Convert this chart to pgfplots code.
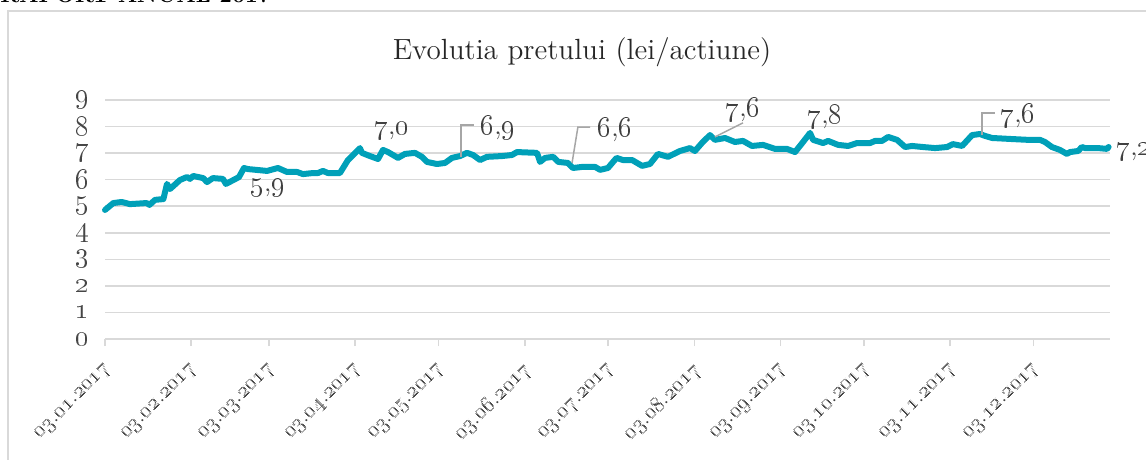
\documentclass[border=0pt]{standalone}
\usepackage{pgfplots}
\pgfplotsset{compat=1.18}
\definecolor{linec}{RGB}{0,160,184}
\definecolor{gridc}{RGB}{217,217,217}
\definecolor{txtc}{RGB}{70,70,70}
\definecolor{labc}{RGB}{64,64,64}
\definecolor{titc}{RGB}{38,38,38}
\definecolor{leadc}{RGB}{166,166,166}
\newcommand\os[1]{\oldstylenums{#1}}
\newcommand\dd[1]{\os{03}.\os{#1}.\os{2017}}
\newcommand\vl[2]{\os{#1},\os{#2}}
\pgfplotstableread{
day val
0 4.86
3 5.12
6 5.16
9 5.08
15 5.12
16 5.05
18 5.24
21 5.27
22.3 5.84
23.4 5.65
27 5.99
29.5 6.10
30.6 6.03
31.7 6.14
35.3 6.06
36.7 5.91
38.8 6.06
42.4 6.03
43.5 5.84
47.5 6.06
48.2 6.10
50 6.44
51.4 6.40
58.3 6.33
62.2 6.44
65.5 6.29
69.1 6.29
71.2 6.21
74.8 6.25
76.6 6.25
78.4 6.33
80.2 6.25
84.5 6.25
87.4 6.74
91.7 7.19
92.4 7.01
95.3 6.89
98.2 6.78
100 7.12
101.8 7.04
105.4 6.82
107.9 6.97
111.5 7.01
114 6.86
115.8 6.67
119.4 6.59
122.3 6.63
124.8 6.82
127.7 6.89
130.2 7.01
132.4 6.93
134.9 6.74
137.4 6.86
142.8 6.89
146.4 6.93
148.2 7.04
155.4 7.01
156.5 6.67
158.3 6.82
161.2 6.86
163 6.67
166.5 6.63
168.3 6.44
171.6 6.48
176.3 6.48
178.1 6.37
180.9 6.44
184 6.82
186.3 6.74
189.6 6.74
193.2 6.52
196 6.59
198.9 6.97
202.5 6.86
206.8 7.08
210.4 7.19
212.2 7.08
214.7 7.38
217.6 7.68
219.4 7.50
223 7.57
226.6 7.42
229.5 7.46
232.7 7.27
236.7 7.31
241 7.16
245.3 7.16
248.2 7.04
251.1 7.42
253.6 7.76
254.7 7.50
258.3 7.38
260.1 7.46
263.7 7.31
267.3 7.27
270.5 7.38
275.2 7.38
277 7.46
279.5 7.46
281.7 7.61
284.9 7.50
287.8 7.23
290.3 7.27
294.2 7.23
298.6 7.19
302.9 7.23
305 7.34
308.3 7.27
311.9 7.68
314.7 7.72
316.5 7.65
319.1 7.57
326.3 7.53
332 7.50
336.3 7.50
338.1 7.42
340.6 7.23
343.5 7.12
346 6.97
347.1 7.04
350 7.08
351.4 7.23
352.5 7.19
357.2 7.19
360.4 7.16
361 7.23
}\pricedata
\begin{document}
\begin{tikzpicture}
\path[use as bounding box] (0,0) rectangle (573pt,-230pt);
\clip (0,0) rectangle (573pt,-230pt);
\begin{scope}[x=0.5pt,y=-0.5pt]
\draw[gridc, line width=1pt] (7.5,11) rectangle (1170,490);
\node[anchor=base west, font=\fontsize{11.3}{13}\selectfont\bfseries, inner sep=0] at (0,3) {RAPORT ANUAL 2017};
\node[anchor=base, font=\fontsize{14.6}{17}\selectfont, text=titc, inner sep=0] at (582,60) {Evolutia pretului (lei/actiune)};
\end{scope}
\begin{axis}[
  at={(52.5pt,-169.5pt)}, anchor=south west,
  scale only axis, width=502.5pt, height=119.5pt,
  xmin=0, xmax=361.5, ymin=0, ymax=9,
  clip=false,
  axis x line*=bottom, axis y line*=left,
  y axis line style={draw=none},
  x axis line style={gridc, line width=1pt},
  ytick={0,1,2,3,4,5,6,7,8,9},
  yticklabels={\os{0},\os{1},\os{2},\os{3},\os{4},\os{5},\os{6},\os{7},\os{8},\os{9}},
  ymajorgrids, grid style={gridc, line width=0.8pt},
  ytick style={draw=none},
  xtick={0,31,59,90,120,151,181,212,243,273,304,334},
  xticklabels={\dd{01},\dd{02},\dd{03},\dd{04},\dd{05},\dd{06},\dd{07},\dd{08},\dd{09},\dd{10},\dd{11},\dd{12}},
  xtick style={gridc, line width=0.8pt},
  tick align=outside, major tick length=3.5pt,
  xticklabel style={xshift=4pt, yshift=-8pt, rotate=45, anchor=east, font=\fontsize{11}{12}\selectfont, text=txtc},
  yticklabel style={font=\fontsize{14.5}{16}\selectfont, text=txtc, xshift=-1pt},
]
\addplot[linec, line width=3pt, line join=round, line cap=round] table[x=day,y=val] {\pricedata};
\begin{scope}[font=\fontsize{13.5}{15}\selectfont, text=labc]
\node at (axis cs:58.6,5.69) {\vl59};
\node at (axis cs:103.2,7.83) {\vl70};
\node at (axis cs:141.4,7.95) {\vl69};
\node at (axis cs:183.5,7.87) {\vl66};
\node at (axis cs:229.5,8.63) {\vl76};
\node at (axis cs:259,8.36) {\vl78};
\node at (axis cs:328.4,8.40) {\vl76};
\node[anchor=west, inner sep=1pt] at (axis cs:363,7.04) {\vl72};
\end{scope}
\draw[leadc, line width=0.75pt] (axis cs:128.1,6.86) -- (axis cs:128.1,8.06) -- (axis cs:132.7,8.06);
\draw[leadc, line width=0.75pt] (axis cs:168.0,6.63) -- (axis cs:170.1,7.98) -- (axis cs:174.5,7.98);
\draw[leadc, line width=0.75pt] (axis cs:219.4,7.61) -- (axis cs:229.5,8.14);
\draw[leadc, line width=0.75pt] (axis cs:315.5,7.68) -- (axis cs:315.5,8.51) -- (axis cs:320.1,8.51);
\end{axis}
\end{tikzpicture}
\end{document}
